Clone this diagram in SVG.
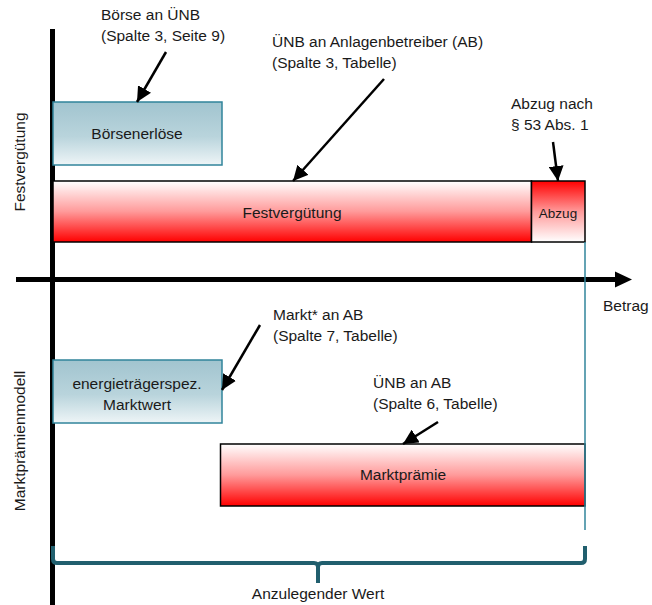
<svg xmlns="http://www.w3.org/2000/svg" width="652" height="605" viewBox="0 0 652 605">
<defs>
<linearGradient id="gTeal" x1="0" y1="0" x2="0" y2="1">
<stop offset="0" stop-color="#A1C4CF"/>
<stop offset="0.55" stop-color="#B9D4DC"/>
<stop offset="1" stop-color="#EEF5F7"/>
</linearGradient>
<linearGradient id="gRedDown" x1="0" y1="0" x2="0" y2="1">
<stop offset="0" stop-color="#FFFFFF"/>
<stop offset="0.5" stop-color="#FF9A9A"/>
<stop offset="1" stop-color="#FF0000"/>
</linearGradient>
<linearGradient id="gRedUp" x1="0" y1="0" x2="0" y2="1">
<stop offset="0" stop-color="#FF0000"/>
<stop offset="0.5" stop-color="#FF9A9A"/>
<stop offset="1" stop-color="#FFFFFF"/>
</linearGradient>
<marker id="ah" viewBox="0 0 10 10" refX="10" refY="5" markerWidth="6" markerHeight="6" orient="auto" markerUnits="strokeWidth">
<path d="M0,0 L10,5 L0,10 Z" fill="#000"/>
</marker>
</defs>
<style>
text{font-family:"Liberation Sans",Arial,sans-serif;font-size:15.5px;fill:#1a1a1a}
.mid{text-anchor:middle}
.teal{fill:url(#gTeal);stroke:#31849B;stroke-width:1.5}
.red{stroke:#000;stroke-width:1.5}
.arr{stroke:#000;stroke-width:2.5;fill:none;marker-end:url(#ah)}
</style>

<g id="axes">
<line x1="52.5" y1="29" x2="52.5" y2="605" stroke="#000" stroke-width="5"/>
<line x1="16" y1="279.5" x2="617" y2="279.5" stroke="#000" stroke-width="5"/>
<polygon points="615,271.5 632,279.5 615,287.5" fill="#000"/>
<text x="603" y="311">Betrag</text>
</g>

<g id="axis-labels">
<text class="mid" transform="translate(25,162) rotate(-90)">Festvergütung</text>
<text class="mid" transform="translate(25,441) rotate(-90)">Marktprämienmodell</text>
</g>

<g id="boersenerloese">
<rect class="teal" x="53" y="102" width="169" height="63"/>
<text class="mid" x="137" y="139">Börsenerlöse</text>
</g>

<g id="festverguetung">
<rect class="red" fill="url(#gRedDown)" x="53" y="181" width="478.5" height="61"/>
<text class="mid" x="292" y="218">Festvergütung</text>
</g>

<g id="abzug">
<rect class="red" fill="url(#gRedUp)" x="531.5" y="181" width="53.5" height="61"/>
<text class="mid" x="558" y="218" style="font-size:13.5px">Abzug</text>
</g>

<g id="marktwert">
<rect class="teal" x="53" y="360" width="169" height="63"/>
<text class="mid" x="137" y="389">energieträgerspez.</text>
<text class="mid" x="137" y="410">Marktwert</text>
</g>

<g id="marktpraemie">
<rect class="red" fill="url(#gRedDown)" x="220.5" y="444" width="364.5" height="62"/>
<text class="mid" x="403" y="480">Marktprämie</text>
</g>

<g id="labels">
<text x="101" y="20">Börse an ÜNB</text>
<text x="101" y="41">(Spalte 3, Seite 9)</text>
<text x="272" y="47">ÜNB an Anlagenbetreiber (AB)</text>
<text x="272" y="68">(Spalte 3, Tabelle)</text>
<text x="511" y="109">Abzug nach</text>
<text x="511" y="130">§ 53 Abs. 1</text>
<text x="273" y="320">Markt* an AB</text>
<text x="273" y="341">(Spalte 7, Tabelle)</text>
<text x="373" y="388">ÜNB an AB</text>
<text x="373" y="409">(Spalte 6, Tabelle)</text>
<text class="mid" x="318" y="599">Anzulegender Wert</text>
</g>

<g id="connectors">
<line class="arr" x1="166" y1="52" x2="137" y2="102"/>
<line class="arr" x1="384" y1="79" x2="293" y2="181"/>
<line class="arr" x1="553" y1="142" x2="558" y2="181"/>
<line class="arr" x1="260" y1="325" x2="222" y2="390"/>
<line class="arr" x1="438" y1="422" x2="403" y2="444"/>
<line x1="585" y1="242" x2="585" y2="530" stroke="#31849B" stroke-width="1.5"/>
<path d="M53,546 V559 Q53,563 57,563 H314 Q318,563 318,567 V583 M318,567 Q318,563 322,563 H581 Q585,563 585,559 V546" fill="none" stroke="#215F6E" stroke-width="4"/>
</g>
</svg>
